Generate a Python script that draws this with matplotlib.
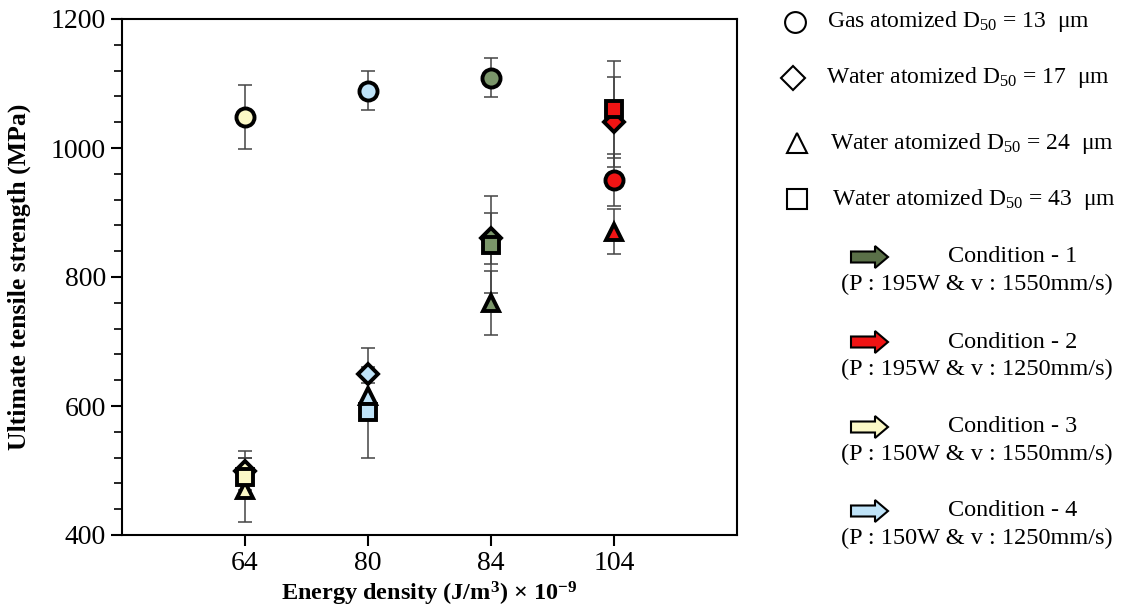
import matplotlib
matplotlib.use("Agg")
import matplotlib.pyplot as plt
from matplotlib.patches import FancyArrow
from matplotlib.ticker import MultipleLocator

plt.rcParams['font.family'] = ['Liberation Serif', 'DejaVu Serif']
plt.rcParams['mathtext.fontset'] = 'custom'
plt.rcParams['mathtext.rm'] = 'Liberation Serif'
plt.rcParams['mathtext.it'] = 'Liberation Serif:italic'
plt.rcParams['mathtext.bf'] = 'Liberation Serif:bold'

# energy density categories
energy = ["64", "80", "84", "104"]
# colour of each category (condition 3, 4, 1, 2)
cond_colors = ["#fbf8c6", "#bfe3f8", "#7b966a", "#f01414"]

# UTS (MPa) and error for each powder, per category
gas13 = [1048, 1089, 1109, 950]
gas13_err = [50, 30, 30, 40]
water17 = [500, 650, 860, 1040]
water17_err = [30, 40, 40, 70]
water24 = [470, 615, 760, 870]
water24_err = [50, 20, 50, 35]
water43 = [490, 590, 850, 1060]
water43_err = [30, 70, 75, 75]

series = [
    (gas13, gas13_err, "o", 13),
    (water17, water17_err, "D", 10),
    (water24, water24_err, "^", 12),
    (water43, water43_err, "s", 12),
]

legend_labels = [
    "Gas atomized D$_{50}$ = 13  \u03bcm",
    "Water atomized D$_{50}$ = 17  \u03bcm",
    "Water atomized D$_{50}$ = 24  \u03bcm",
    "Water atomized D$_{50}$ = 43  \u03bcm",
]
cond_names = ["Condition - 1", "Condition - 2", "Condition - 3", "Condition - 4"]
cond_params = ["(P : 195W & v : 1550mm/s)", "(P : 195W & v : 1250mm/s)",
               "(P : 150W & v : 1550mm/s)", "(P : 150W & v : 1250mm/s)"]
cond_arrow_colors = ["#5a7048", "#f01414", "#fbf8c6", "#bfe3f8"]

fig = plt.figure(figsize=(11.25, 6.09), dpi=100)
ax = fig.add_axes([122 / 1125, 1 - 535 / 609, 615 / 1125, 516 / 609])

xpos = list(range(1, len(energy) + 1))
for z, (vals, errs, mk, ms) in enumerate(series):
    for x, v, e in zip(xpos, vals, errs):
        ax.errorbar(x, v, yerr=e, fmt="none", ecolor="#444444", elinewidth=1.1,
                    capsize=5, capthick=1.1, zorder=1)
    for x, v, c in zip(xpos, vals, cond_colors):
        ax.plot(x, v, marker=mk, ms=ms, mfc=c, mec="black", mew=2.8,
                linestyle="none", zorder=3 + z)

ax.set_xlim(0, 5)
ax.set_ylim(400, 1200)
ax.set_xticks(xpos)
ax.set_xticklabels(energy)
ax.yaxis.set_major_locator(MultipleLocator(200))
ax.yaxis.set_minor_locator(MultipleLocator(40))
ax.tick_params(axis="both", which="major", direction="out", labelsize=20,
               width=1.5, length=8, top=False, right=False)
ax.tick_params(axis="y", which="minor", direction="out", width=1.2, length=6)
for sp in ax.spines.values():
    sp.set_linewidth(1.5)

ax.set_ylabel("Ultimate tensile strength (MPa)", fontsize=18.5, fontweight="bold")
ax.yaxis.set_label_coords(-0.148, 0.5)
ax.set_xlabel("Energy density (J/m$^{\\mathbf{3}}$) \u00d7 10$^{\\mathbf{-9}}$",
              fontsize=17.5, fontweight="bold", labelpad=3)

# legend drawn in pixel coordinates
lg = fig.add_axes([0, 0, 1, 1])
lg.set_xlim(0, 1125)
lg.set_ylim(609, 0)
lg.axis("off")
lg.patch.set_alpha(0)

mk_pos = [(795, 22), (793, 78), (797, 143), (797, 199)]
txt_x = [827, 826, 830, 832]
for (mx, my), tx, lab, (_, _, mk, ms) in zip(mk_pos, txt_x, legend_labels, series):
    lg.plot(mx, my, marker=mk, ms=ms + 2, mfc="white", mec="black", mew=1.5)
    lg.text(tx, my, lab, fontsize=17, va="center", ha="left")

arrow_y = [257, 342, 427, 511]
for ay, name, par, col in zip(arrow_y, cond_names, cond_params, cond_arrow_colors):
    lg.add_patch(FancyArrow(851, ay, 37, 0, width=11, head_width=22, head_length=13,
                            length_includes_head=True, fc=col, ec="black", lw=1.5))
    lg.text(1013, ay, name, fontsize=17.5, ha="center", va="center")
    lg.text(977, ay + 27, par, fontsize=17.5, ha="center", va="center")

fig.savefig("out.png", dpi=100)
